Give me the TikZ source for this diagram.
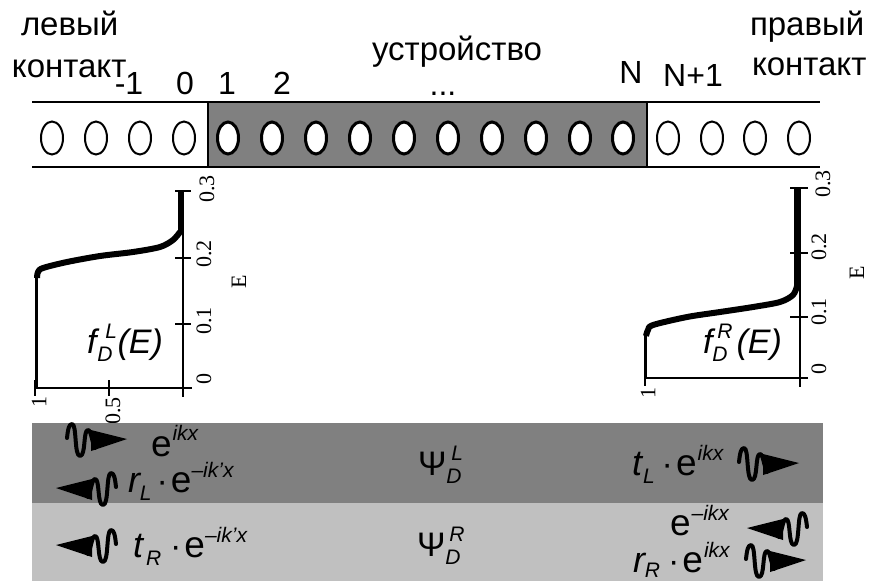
\documentclass[tikz,border=0pt]{standalone}
\usepackage{fontspec}
\setmainfont{Liberation Sans}
\newfontfamily\serifaxis{Liberation Serif}
\definecolor{bandgray}{HTML}{808080}
\definecolor{lightgray2}{HTML}{C0C0C0}
\newcommand{\spp}[2][15pt]{\raisebox{#1}{\fontsize{21}{23}\selectfont\itshape #2}}
\newcommand{\sbb}[2][-8pt]{\raisebox{#1}{\fontsize{21}{23}\selectfont\itshape #2}}
\newcommand{\itl}[1]{{\fontsize{36}{40}\selectfont\itshape #1}}
\newcommand{\dotc}{{\fontsize{34}{38}\selectfont\textperiodcentered}}
\newcommand{\both}[3]{\rlap{\kern#1\spp{#2}}\sbb{#3}}
\tikzset{
  x=1pt,y=-1pt,
  lbl/.style={anchor=base west,inner sep=0pt,outer sep=0pt,font=\fontsize{33}{38}\selectfont},
  num/.style={anchor=base,inner sep=0pt,outer sep=0pt,font=\fontsize{32}{36}\selectfont},
  frm/.style={anchor=base west,inner sep=0pt,outer sep=0pt,font=\fontsize{37}{42}\selectfont},
  tick/.style={anchor=center,inner sep=0pt,outer sep=0pt,rotate=90,font=\serifaxis\fontsize{22}{24}\selectfont},
  cont/.style={draw=black,line width=2pt,fill=white},
  dev/.style={draw=black,line width=3pt,fill=white},
  axisln/.style={line width=2.2pt,black},
  pics/wavearrow/.style={code={
    \fill[black] (-36,-9) -- (0,0) -- (-36,12) -- cycle;
    \draw[black,line width=4pt,line cap=round,line join=round]
      (-60,-1) .. controls (-59,-10) and (-58,-15) .. (-55,-15)
      .. controls (-50,-15) and (-53,17) .. (-47,17)
      .. controls (-41,17) and (-44,-9) .. (-39,-9)
      .. controls (-36,-9) and (-35,3) .. (-32,9);
  }}
}
\begin{document}
\begin{tikzpicture}
\useasboundingbox (0,0) rectangle (869,581);
% chain
\fill[bandgray] (208,102) rectangle (647,167);
\draw[line width=2.2pt] (32,102) -- (820,102);
\draw[line width=2.2pt] (32,167) -- (820,167);
\draw[line width=2.2pt] (208,102) -- (208,167);
\draw[line width=2.2pt] (647,102) -- (647,167);
\foreach \n/\x in {a/52,b/96,c/140,d/184,w/668,p/712,q/755,r/799}
  \draw[cont] (\x,138) ellipse [x radius=11,y radius=16.5];
\foreach \n/\x in {1/228,2/272,3/316,4/360,5/404,6/448,7/492,8/536,9/580,10/623}
  \draw[dev] (\x,138) ellipse [x radius=10.5,y radius=16];
% labels
\node[lbl] (lv) at (21,35) {левый};
\node[lbl] (lc) at (12,77) {контакт};
\node[lbl] (ust) at (372,60) {устройство};
\node[lbl] (pr) at (750,35) {правый};
\node[lbl] (pc) at (752,75) {контакт};
\node[num] (nm1) at (129,94) {-1};
\node[num] (n0) at (185,94) {0};
\node[num] (n1) at (227,94) {1};
\node[num] (n2) at (282,94) {2};
\node[num] (dots) at (443,95) {...};
\node[num] (nN) at (631,83) {N};
\node[num] (nNp) at (693,86) {N+1};
% left plot
\draw[axisln] (183,191) -- (183,397);
\draw[axisln] (35,388) -- (192,388);
\draw[axisln] (175,191) -- (191,191);
\draw[axisln] (175,258) -- (191,258);
\draw[axisln] (175,324) -- (191,324);
\draw[axisln] (35,380) -- (35,396);
\draw[axisln] (109,380) -- (109,396);
\draw[black,line width=3pt] (36,388) -- (36,276);
\draw[black,line width=6pt,line join=round] plot[smooth] coordinates {(37,278) (38,272) (43,268) (67,262) (100,256) (133,252) (160,247) (173,240) (180,232)};
\draw[black,line width=6pt] (181,234) -- (181,191);
\node[tick] (l0) at (204,379) {0};
\node[tick] (l1) at (204,321) {0.1};
\node[tick] (l2) at (204,254) {0.2};
\node[tick] (l3) at (207,189) {0.3};
\node[tick] (lE) at (239,282) {E};
\node[tick] (lx1) at (39,402) {1};
\node[tick] (lx5) at (113,411) {0.5};
\node[frm,font=\fontsize{34}{38}\selectfont\itshape] (fL) at (87,353) {f\kern1pt\both{8pt}{L}{D}\kern5pt(E)};
% right plot
\draw[axisln] (800,188) -- (800,387);
\draw[axisln] (644,378) -- (808,378);
\draw[axisln] (790,188) -- (808,188);
\draw[axisln] (790,253) -- (808,253);
\draw[axisln] (790,317) -- (808,317);
\draw[axisln] (645,370) -- (645,386);
\draw[axisln] (800,370) -- (800,387);
\draw[black,line width=3pt] (645,378) -- (645,334);
\draw[black,line width=6pt,line join=round] plot[smooth] coordinates {(646,336) (648,330) (653,325) (687,317) (720,312) (753,307) (780,302) (793,295) (797,286)};
\draw[black,line width=6.5pt] (797.5,288) -- (797.5,188);
\node[tick] (r0) at (819,369) {0};
\node[tick] (r1) at (819,312) {0.1};
\node[tick] (r2) at (819,247) {0.2};
\node[tick] (r3) at (823,184) {0.3};
\node[tick] (rE) at (857,273) {E};
\node[tick] (rx1) at (648,393) {1};
\node[frm,font=\fontsize{34}{38}\selectfont\itshape] (fR) at (703,353) {f\both{5pt}{R}{D}\kern9pt(E)};
% bands
\fill[bandgray] (32,423) rectangle (823,503);
\fill[lightgray2] (32,503) rectangle (823,581);
% waves
\pic at (127,439) {wavearrow};
\pic[xscale=-1] at (56,488) {wavearrow};
\pic[xscale=-1] at (56,545) {wavearrow};
\pic at (799,463) {wavearrow};
\pic[xscale=-1] at (747,528) {wavearrow};
\pic at (806,560) {wavearrow};
% formulas
\node[frm] (e1) at (151,456) {e\kern1pt\spp[16pt]{ikx}};
\node[frm] (rl) at (128,492) {\itl{r}\sbb{L}\kern5pt\dotc\kern3pt e\spp{--ik'x}};
\node[frm] (tr) at (133,557) {\itl{t}\kern3pt\sbb{R}\kern9pt\dotc\kern3pt e\spp{--ik'x}};
\node[frm] (tl) at (632,475) {\itl{t}\kern1pt\sbb{L}\kern7pt\dotc\kern3pt e\kern1pt\spp{ikx}};
\node[frm] (emk) at (670,535) {e\kern1pt\spp{--ikx}};
\node[frm] (rr) at (633,572) {\itl{r}\sbb[-5pt]{R}\kern8pt\dotc\kern3pt e\kern1pt\spp{ikx}};
\node[frm,font=\fontsize{34}{38}\selectfont] (psiL) at (418,475) {Ψ\both{5pt}{L}{D}};
\node[frm,font=\fontsize{34}{38}\selectfont] (psiR) at (417,556) {Ψ\both{4pt}{R}{D}};
\end{tikzpicture}
\end{document}
